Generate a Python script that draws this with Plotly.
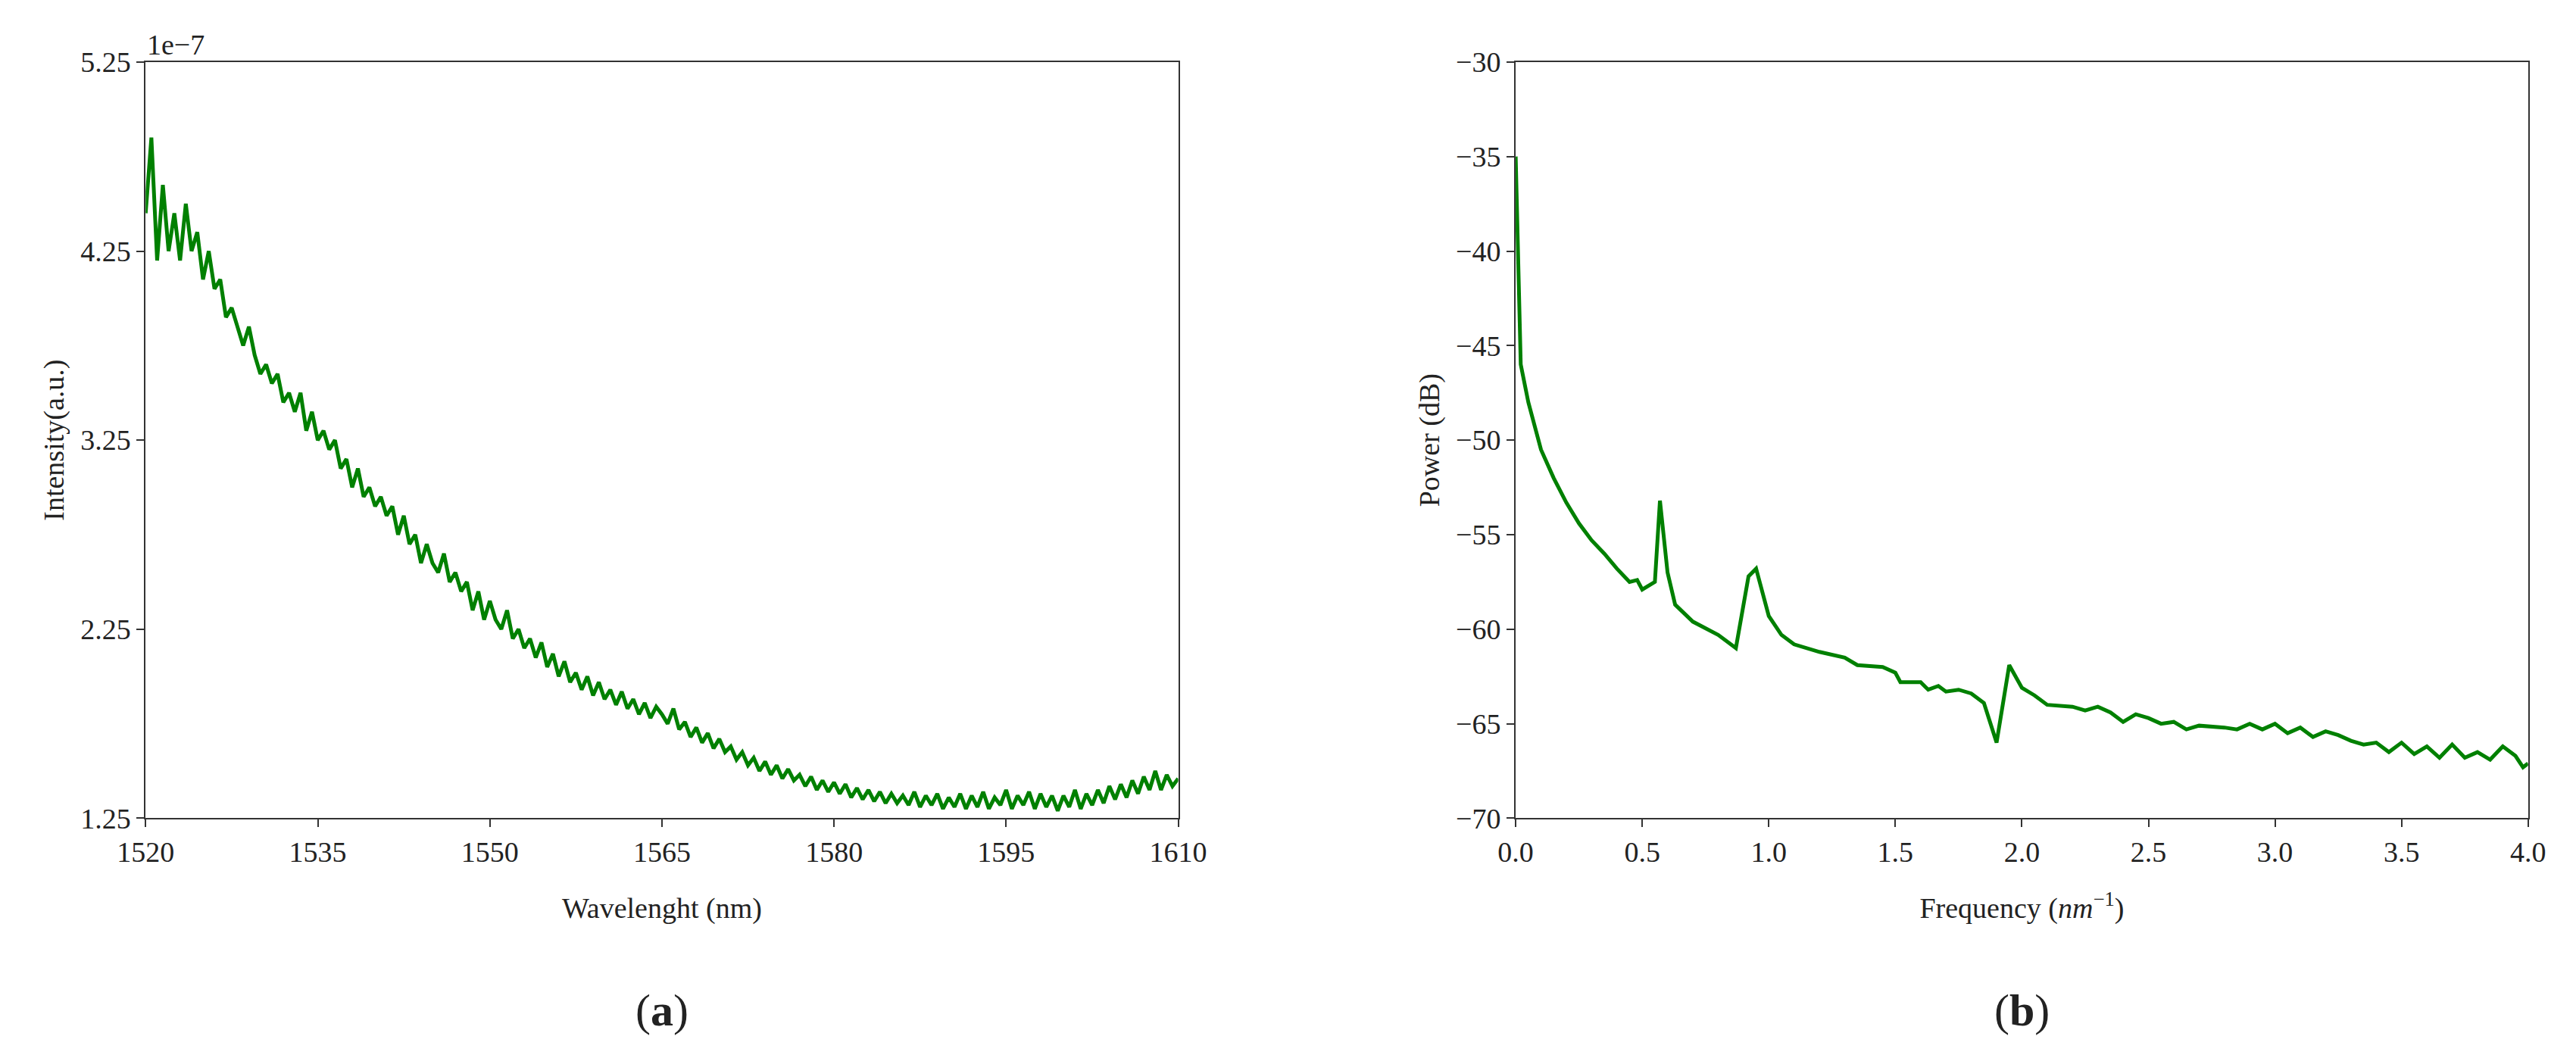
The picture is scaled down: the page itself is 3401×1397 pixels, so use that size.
import plotly.graph_objects as go

# panel (a): spectrum, 0.5 nm step from 1520 to 1610, units of 1e-7
WAVELENGTH_START = 1520
WAVELENGTH_STEP = 0.5
INTENSITY = [
    4.45, 4.85, 4.2, 4.6, 4.25, 4.45, 4.2, 4.5, 4.25, 4.35,
    4.1, 4.25, 4.05, 4.1, 3.9, 3.95, 3.85, 3.75, 3.85, 3.7,
    3.6, 3.65, 3.55, 3.6, 3.45, 3.5, 3.4, 3.5, 3.3, 3.4,
    3.25, 3.3, 3.2, 3.25, 3.1, 3.15, 3.0, 3.1, 2.95, 3.0,
    2.9, 2.95, 2.85, 2.9, 2.75, 2.85, 2.7, 2.75, 2.6, 2.7,
    2.6, 2.55, 2.65, 2.5, 2.55, 2.45, 2.5, 2.35, 2.45, 2.3,
    2.4, 2.3, 2.25, 2.35, 2.2, 2.25, 2.15, 2.2, 2.1, 2.18,
    2.05, 2.12, 2.0, 2.08, 1.97, 2.02, 1.93, 2.0, 1.9, 1.97,
    1.88, 1.93, 1.85, 1.92, 1.83, 1.88, 1.8, 1.86, 1.78, 1.84,
    1.8, 1.75, 1.83, 1.72, 1.76, 1.68, 1.73, 1.65, 1.7, 1.62,
    1.67, 1.6, 1.63, 1.56, 1.6, 1.53, 1.57, 1.5, 1.55, 1.48,
    1.53, 1.46, 1.51, 1.45, 1.48, 1.42, 1.47, 1.4, 1.45, 1.39,
    1.44, 1.38, 1.43, 1.36, 1.41, 1.35, 1.4, 1.34, 1.39, 1.33,
    1.38, 1.33, 1.37, 1.32, 1.39, 1.31, 1.37, 1.32, 1.38, 1.3,
    1.36, 1.31, 1.38, 1.3, 1.37, 1.31, 1.39, 1.3, 1.36, 1.32,
    1.4, 1.3, 1.37, 1.32, 1.39, 1.3, 1.38, 1.31, 1.37, 1.29,
    1.37, 1.31, 1.4, 1.3, 1.38, 1.32, 1.4, 1.33, 1.42, 1.35,
    1.43, 1.36, 1.45, 1.38, 1.47, 1.4, 1.5, 1.4, 1.48, 1.42,
    1.46,
]
WAVELENGTH = [WAVELENGTH_START + WAVELENGTH_STEP * i for i in range(len(INTENSITY))]

# panel (b): power spectrum
FREQUENCY = [0, 0.01, 0.02, 0.05, 0.1, 0.15, 0.2, 0.25, 0.3, 0.35, 0.4, 0.45,
             0.48, 0.5, 0.55, 0.57, 0.6, 0.63, 0.7, 0.8, 0.87, 0.92, 0.95,
             1.0, 1.05, 1.1, 1.2, 1.3, 1.35, 1.45, 1.5, 1.52, 1.6, 1.63, 1.67,
             1.7, 1.75, 1.8, 1.85, 1.9, 1.95, 2.0, 2.05, 2.1, 2.2, 2.25, 2.3,
             2.35, 2.4, 2.45, 2.5, 2.55, 2.6, 2.65, 2.7, 2.8, 2.85, 2.9, 2.95,
             3.0, 3.05, 3.1, 3.15, 3.2, 3.25, 3.3, 3.35, 3.4, 3.45, 3.5, 3.55,
             3.6, 3.65, 3.7, 3.75, 3.8, 3.85, 3.9, 3.95, 3.98, 4.0]
POWER = [-35, -40, -46, -48, -50.5, -52, -53.3, -54.4, -55.3, -56, -56.8, -57.5,
         -57.4, -57.9, -57.5, -53.2, -57, -58.7, -59.6, -60.3, -61, -57.2, -56.8,
         -59.3, -60.3, -60.8, -61.2, -61.5, -61.9, -62, -62.3, -62.8, -62.8, -63.2, -63.0,
         -63.3, -63.2, -63.4, -63.9, -66, -61.9, -63.1, -63.5, -64, -64.1, -64.3, -64.1,
         -64.4, -64.9, -64.5, -64.7, -65.0, -64.9, -65.3, -65.1, -65.2, -65.3, -65.0, -65.3,
         -65.0, -65.5, -65.2, -65.7, -65.4, -65.6, -65.9, -66.1, -66.0, -66.5, -66.0, -66.6,
         -66.2, -66.8, -66.1, -66.8, -66.5, -66.9, -66.2, -66.7, -67.3, -67.1]

LEFT_XTICKS = [1520, 1535, 1550, 1565, 1580, 1595, 1610]
LEFT_YTICKS = [1.25, 2.25, 3.25, 4.25, 5.25]
RIGHT_XTICKS = [0.0, 0.5, 1.0, 1.5, 2.0, 2.5, 3.0, 3.5, 4.0]
RIGHT_YTICKS = [-70, -65, -60, -55, -50, -45, -40, -35, -30]

GREEN = '#008000'
FONT = 'Liberation Serif'
TICK_SIZE = 38
TITLE_SIZE = 38

fig = go.Figure()
fig.add_trace(go.Scatter(x=WAVELENGTH, y=INTENSITY, mode='lines',
                         line=dict(color=GREEN, width=5), xaxis='x', yaxis='y'))
fig.add_trace(go.Scatter(x=FREQUENCY, y=POWER, mode='lines',
                         line=dict(color=GREEN, width=5), xaxis='x2', yaxis='y2'))

axis_style = dict(showline=True, mirror=True, linecolor='#333333', linewidth=2,
                  ticks='outside', ticklen=10, tickwidth=2, tickcolor='#333333',
                  showgrid=False, zeroline=False,
                  tickfont=dict(family=FONT, size=TICK_SIZE, color='#222222'))

fig.update_layout(
    width=3401, height=1397, showlegend=False,
    plot_bgcolor='white', paper_bgcolor='white',
    margin=dict(l=0, r=0, t=0, b=0),
    font=dict(family=FONT, color='#222222'),
    xaxis=dict(axis_style, domain=[0.044, 0.454], range=[1520, 1610],
               tickvals=LEFT_XTICKS,
               title=dict(text='Wavelenght (nm)', font=dict(size=TITLE_SIZE), standoff=40)),
    yaxis=dict(axis_style, domain=[0.224, 0.961], range=[1.25, 5.25],
               tickvals=LEFT_YTICKS, ticktext=[f'{v:.2f}' for v in LEFT_YTICKS],
               title=dict(text='Intensity(a.u.)', font=dict(size=TITLE_SIZE), standoff=10)),
    xaxis2=dict(axis_style, domain=[0.588, 0.99], range=[0, 4], anchor='y2',
                tickvals=RIGHT_XTICKS, ticktext=[f'{v:.1f}' for v in RIGHT_XTICKS],
                title=dict(text='Frequency (<i>nm</i><sup>−1</sup>)', font=dict(size=TITLE_SIZE), standoff=40)),
    yaxis2=dict(axis_style, domain=[0.224, 0.961], range=[-70, -30], anchor='x2',
                tickvals=RIGHT_YTICKS, ticktext=[str(v).replace('-', '−') for v in RIGHT_YTICKS],
                title=dict(text='Power (dB)', font=dict(size=TITLE_SIZE), standoff=10)),
    annotations=[
        dict(text='1e−7', x=0.044, y=0.961, xref='paper', yref='paper',
             xanchor='left', yanchor='bottom', showarrow=False,
             font=dict(family=FONT, size=TICK_SIZE)),
        dict(text='(<b>a</b>)', x=0.249, y=0.037, xref='paper', yref='paper',
             xanchor='center', yanchor='middle', showarrow=False,
             font=dict(family=FONT, size=60)),
        dict(text='(<b>b</b>)', x=0.789, y=0.037, xref='paper', yref='paper',
             xanchor='center', yanchor='middle', showarrow=False,
             font=dict(family=FONT, size=60)),
    ],
)

fig.write_html("out.html")
